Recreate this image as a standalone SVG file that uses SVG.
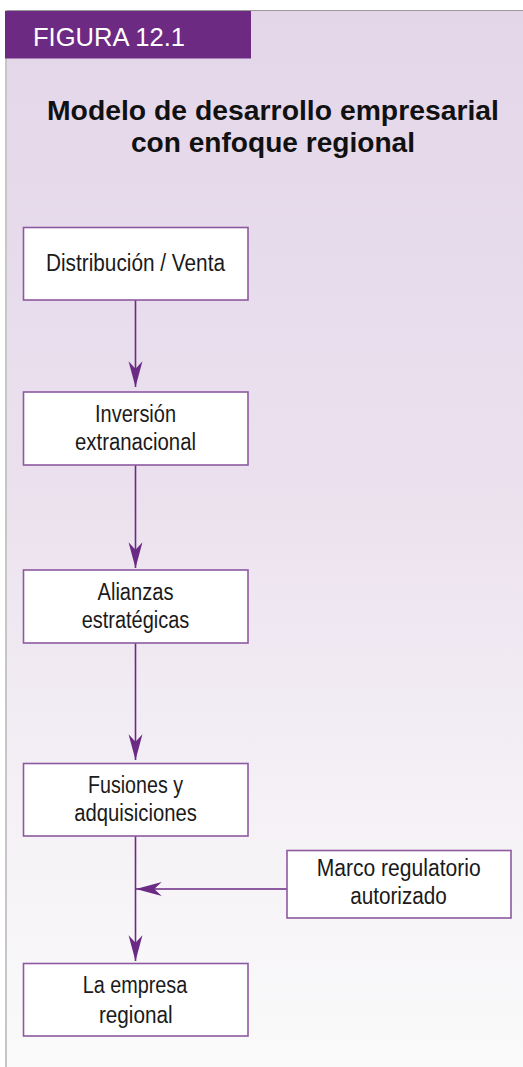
<svg xmlns="http://www.w3.org/2000/svg" width="523" height="1067" viewBox="0 0 523 1067">
  <defs>
    <linearGradient id="bg" x1="0" y1="0" x2="0" y2="1">
      <stop offset="0" stop-color="#e3d6e9"/>
      <stop offset="0.45" stop-color="#ebe1ee"/>
      <stop offset="0.8" stop-color="#f6f3f7"/>
      <stop offset="1" stop-color="#fafafa"/>
    </linearGradient>
    <marker id="ah" markerUnits="userSpaceOnUse" markerWidth="30" markerHeight="20" viewBox="-26 -8 28 16" refX="0" refY="0" orient="auto">
      <path d="M0,0 L-24,-6.5 L-17,0 L-24,6.5 Z" fill="#6b2a83"/>
    </marker>
    <style>
      .box { fill: #ffffff; stroke: #8e59a1; stroke-width: 1.6; }
      .lbl { font-family: "Liberation Sans", Arial, sans-serif; font-size: 23px; fill: #1a1a1a; text-anchor: middle; }
      .conn { stroke: #6b2a83; stroke-width: 1.6; fill: none; marker-end: url(#ah); }
      .title { font-family: "Liberation Sans", Arial, sans-serif; font-size: 28px; font-weight: bold; fill: #111; text-anchor: middle; }
    </style>
  </defs>

  <rect x="0" y="0" width="523" height="1067" fill="#ffffff"/>
  <rect x="5" y="10" width="518" height="1057" fill="url(#bg)"/>
  <line x1="5" y1="10.5" x2="523" y2="10.5" stroke="#9a9a9a" stroke-width="1"/>
  <line x1="6" y1="10" x2="6" y2="1067" stroke="#c6c6c6" stroke-width="2"/>

  <g id="header">
    <rect x="5" y="11" width="246" height="47.5" fill="#6c2a83"/>
    <text x="33" y="46" font-family="Liberation Sans, Arial, sans-serif" font-size="25" fill="#ffffff" textLength="152" lengthAdjust="spacingAndGlyphs">FIGURA 12.1</text>
  </g>

  <g id="title">
    <text class="title" x="273" y="120" textLength="452" lengthAdjust="spacingAndGlyphs">Modelo de desarrollo empresarial</text>
    <text class="title" x="273" y="151.5" textLength="284" lengthAdjust="spacingAndGlyphs">con enfoque regional</text>
  </g>

  <g id="connectors">
    <line class="conn" x1="135.5" y1="300" x2="135.5" y2="387"/>
    <line class="conn" x1="135.5" y1="465" x2="135.5" y2="568"/>
    <line class="conn" x1="135.5" y1="643" x2="135.5" y2="760"/>
    <line class="conn" x1="135.5" y1="836" x2="135.5" y2="961"/>
    <line class="conn" x1="287" y1="889" x2="136" y2="889"/>
  </g>

  <g id="node-distribucion">
    <rect class="box" x="23.5" y="227.5" width="224.5" height="72.5"/>
    <text class="lbl" x="135.5" y="271" textLength="179" lengthAdjust="spacingAndGlyphs">Distribución / Venta</text>
  </g>

  <g id="node-inversion">
    <rect class="box" x="23.5" y="392" width="224.5" height="73"/>
    <text class="lbl" x="135.5" y="421.5" textLength="81" lengthAdjust="spacingAndGlyphs">Inversión</text>
    <text class="lbl" x="135.5" y="450.3" textLength="121" lengthAdjust="spacingAndGlyphs">extranacional</text>
  </g>

  <g id="node-alianzas">
    <rect class="box" x="23.5" y="570" width="224.5" height="73"/>
    <text class="lbl" x="135.5" y="600" textLength="76" lengthAdjust="spacingAndGlyphs">Alianzas</text>
    <text class="lbl" x="135.5" y="628.3" textLength="107.6" lengthAdjust="spacingAndGlyphs">estratégicas</text>
  </g>

  <g id="node-fusiones">
    <rect class="box" x="23.5" y="763.5" width="224.5" height="72.5"/>
    <text class="lbl" x="135.5" y="793" textLength="95" lengthAdjust="spacingAndGlyphs">Fusiones y</text>
    <text class="lbl" x="135.5" y="821.3" textLength="122.7" lengthAdjust="spacingAndGlyphs">adquisiciones</text>
  </g>

  <g id="node-marco">
    <rect class="box" x="287" y="850.5" width="224" height="67.5"/>
    <text class="lbl" x="398.7" y="876" textLength="164" lengthAdjust="spacingAndGlyphs">Marco regulatorio</text>
    <text class="lbl" x="398.5" y="904.3" textLength="96.7" lengthAdjust="spacingAndGlyphs">autorizado</text>
  </g>

  <g id="node-empresa">
    <rect class="box" x="23.5" y="963.5" width="224.5" height="72.5"/>
    <text class="lbl" x="135" y="993.3" textLength="104.6" lengthAdjust="spacingAndGlyphs">La empresa</text>
    <text class="lbl" x="135.8" y="1022.7" textLength="73.7" lengthAdjust="spacingAndGlyphs">regional</text>
  </g>
</svg>
